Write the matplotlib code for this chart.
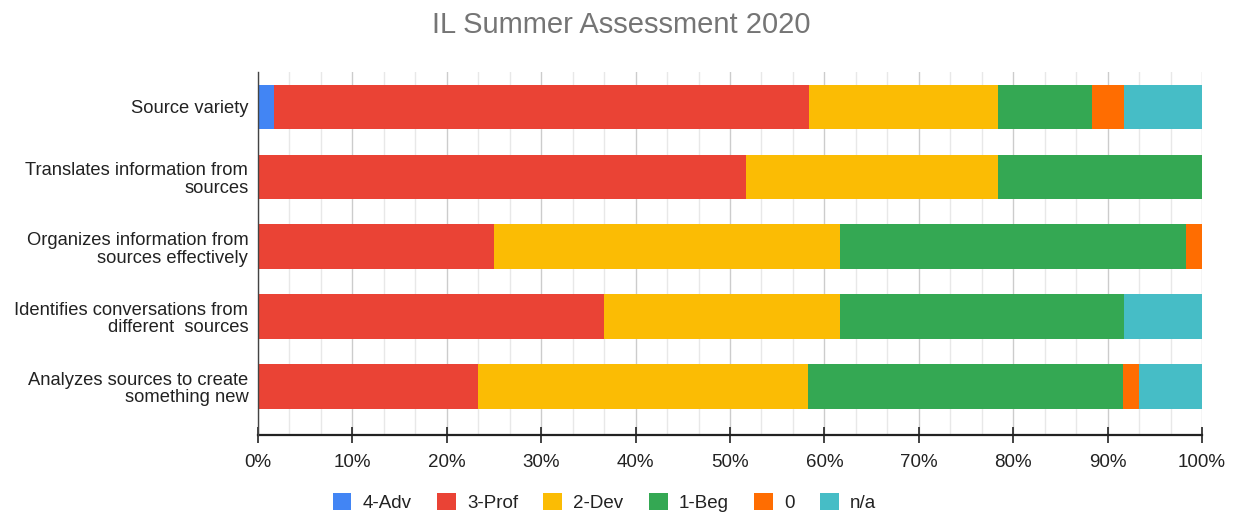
import matplotlib
matplotlib.use('Agg')
import matplotlib.pyplot as plt
from matplotlib.ticker import MultipleLocator, PercentFormatter
import numpy as np

plt.rcParams['font.family'] = ['Liberation Sans', 'DejaVu Sans']

categories = ["Source variety",
              "Translates information from\nsources",
              "Organizes information from\nsources effectively",
              "Identifies conversations from\ndifferent  sources",
              "Analyzes sources to create\nsomething new"]
levels = ["4-Adv", "3-Prof", "2-Dev", "1-Beg", "0", "n/a"]
colors = ["#4285F4", "#EA4335", "#FBBC04", "#34A853", "#FF6D01", "#46BDC6"]

# percent of responses per level, one list per level (rows follow categories)
adv  = [1.7, 0.0, 0.0, 0.0, 0.0]
prof = [56.7, 51.7, 25.0, 36.7, 23.3]
dev  = [20.0, 26.7, 36.7, 25.0, 35.0]
beg  = [10.0, 21.6, 36.6, 30.0, 33.3]
zero = [3.3, 0.0, 1.7, 0.0, 1.7]
na   = [8.3, 0.0, 0.0, 8.3, 6.7]
series = [adv, prof, dev, beg, zero, na]

fig = plt.figure(figsize=(12.36, 5.13), dpi=100)
ax = fig.add_axes([258/1236, 1 - 435/513, 944/1236, 363/513])

y = np.arange(len(categories))
left = np.zeros(len(categories))
for name, vals, c in zip(levels, series, colors):
    vals = np.array(vals)
    ax.barh(y, vals, left=left, height=0.64, color=c, label=name, zorder=3)
    left += vals

ax.set_xlim(0, 100)
ax.set_ylim(4.69, -0.5)
ax.set_yticks(y)
ax.set_yticklabels(categories, fontsize=13.2, color="#222222", linespacing=1.05)
ax.tick_params(axis='y', length=0, pad=7)

ax.xaxis.set_major_locator(MultipleLocator(10))
ax.xaxis.set_minor_locator(MultipleLocator(10/3))
ax.xaxis.set_major_formatter(PercentFormatter(decimals=0))
ax.tick_params(axis='x', which='major', direction='inout', length=12, width=1.2,
               color="#222222", labelsize=13.5, labelcolor="#222222", pad=8)
ax.tick_params(axis='x', which='minor', length=0)
ax.grid(axis='x', which='major', color="#cccccc", linewidth=1, zorder=0)
ax.grid(axis='x', which='minor', color="#e8e8e8", linewidth=1, zorder=0)

for s in ['top', 'right']:
    ax.spines[s].set_visible(False)
ax.spines['left'].set_color("#444444")
ax.spines['left'].set_linewidth(1)
ax.spines['bottom'].set_color("#222222")
ax.spines['bottom'].set_linewidth(1.6)
ax.spines['left'].set_zorder(4)

fig.suptitle("IL Summer Assessment 2020", x=0.503, y=0.978, fontsize=21,
             color="#757575")

fig.legend(loc='center', bbox_to_anchor=(0.489, 0.021), ncol=6,
           frameon=False, fontsize=13.5, handlelength=1.0, handleheight=1.0,
           handletextpad=0.6, columnspacing=1.35, labelcolor="#222222")

fig.savefig('out.png', dpi=100)
plt.close(fig)
